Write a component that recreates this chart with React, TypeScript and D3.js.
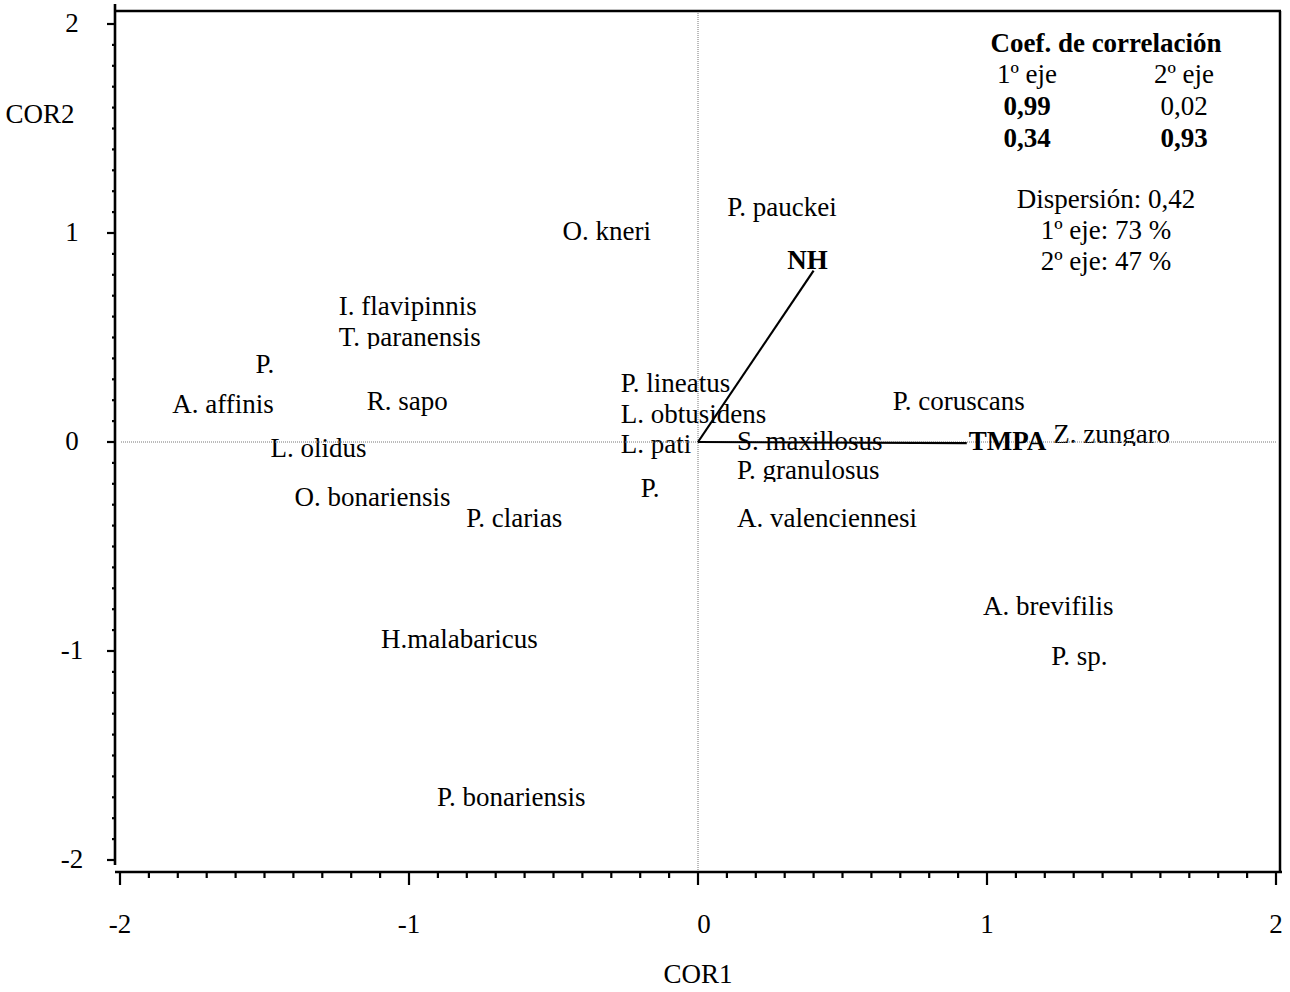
import React from "react";
import * as d3 from "d3";

// ---- data ----
const species = [
  "O. kneri", "P. pauckei", "I. flavipinnis", "T. paranensis", "P.",
  "A. affinis", "R. sapo", "L. olidus", "O. bonariensis", "P. clarias",
  "H.malabaricus", "P. bonariensis", "P. lineatus", "L. obtusidens", "L. pati",
  "P.", "S. maxillosus", "P. granulosus", "A. valenciennesi", "P. coruscans",
  "Z. zungaro", "A. brevifilis", "P. sp.",
];
const cor1 = [
  -0.469, 0.101, -1.243, -1.243, -1.531,
  -1.819, -1.146, -1.479, -1.396, -0.802,
  -1.097, -0.903, -0.267, -0.267, -0.267,
  -0.198, 0.135, 0.135, 0.135, 0.674,
  1.229, 0.986, 1.222,
];
const cor2 = [
  1.0, 1.115, 0.641, 0.493, 0.364,
  0.172, 0.187, -0.038, -0.273, -0.373,
  -0.952, -1.708, 0.273, 0.124, -0.019,
  -0.23, -0.005, -0.144, -0.373, 0.187,
  0.029, -0.794, -1.033,
];

const vecNames = ["NH", "TMPA"];
const vecX = [0.4, 0.93];
const vecY = [0.82, -0.005];

const axisTicks = [-2, -1, 0, 1, 2];
const xTitle = "COR1";
const yTitle = "COR2";

const legendTitle = "Coef. de correlación";
const legendHeaders = ["1º eje", "2º eje"];
const legendRow1 = ["0,99", "0,02"];
const legendRow2 = ["0,34", "0,93"];
const legendRow1Bold = [true, false];
const legendRow2Bold = [true, true];
const dispersionLines = ["Dispersión: 0,42", "1º eje: 73 %", "2º eje: 47 %"];

// labels whose descenders are hidden in the original
const clippedLabels = ["T. paranensis", "P. granulosus", "Z. zungaro"];

export default function App() {
  const W = 1290;
  const H = 992;
  const x = d3.scaleLinear().domain([-2, 2]).range([120, 1276]);
  const y = d3.scaleLinear().domain([-2, 2]).range([860, 24]);
  const font = "'Liberation Serif', 'Times New Roman', serif";
  const fs = 27;
  const axisX = 115;
  const axisY = 872;
  const frameTop = 11;
  const frameRight = 1280;
  const minor = d3.range(-20, 21).map((i) => i / 10);
  const base = 7; // baseline offset from point

  return (
    <div style={{ position: "absolute", left: 0, top: 0 }}>
      <svg width={W} height={H} style={{ display: "block", background: "#fff" }} fontFamily={font} fontSize={fs}>
        <defs>
          {species.map((s, i) =>
            clippedLabels.includes(s) ? (
              <clipPath id={`clip-${i}`} key={i}>
                <rect x={0} y={0} width={W} height={y(cor2[i]) + base + 3} />
              </clipPath>
            ) : null
          )}
        </defs>

        {/* species labels */}
        {species.map((s, i) => (
          <text
            key={i}
            x={x(cor1[i])}
            y={y(cor2[i]) + base}
            fill="#000"
            clipPath={clippedLabels.includes(s) ? `url(#clip-${i})` : undefined}
          >
            {s}
          </text>
        ))}

        {/* dotted reference lines */}
        <line x1={x(0)} x2={x(0)} y1={frameTop} y2={axisY - 2} stroke="#777" strokeWidth={1} strokeDasharray="1,1" />
        <line x1={axisX + 6} x2={frameRight - 4} y1={y(0)} y2={y(0)} stroke="#777" strokeWidth={1} strokeDasharray="1,1" />

        {/* vectors */}
        {vecNames.map((n, i) => (
          <line key={n} x1={x(0)} y1={y(0)} x2={x(vecX[i])} y2={y(vecY[i])} stroke="#000" strokeWidth={2.2} />
        ))}
        <text x={x(vecX[0]) - 6} y={y(vecY[0]) - 2} textAnchor="middle" fontWeight="bold">{vecNames[0]}</text>
        <text x={x(vecX[1]) + 2} y={y(vecY[1]) + base} textAnchor="start" fontWeight="bold">{vecNames[1]}</text>

        {/* frame */}
        <line x1={axisX} x2={frameRight + 1} y1={frameTop} y2={frameTop} stroke="#000" strokeWidth={2.5} />
        <line x1={frameRight} x2={frameRight} y1={frameTop} y2={axisY} stroke="#000" strokeWidth={2.5} />

        {/* y axis */}
        <line x1={axisX} x2={axisX} y1={4} y2={865} stroke="#000" strokeWidth={2.6} />
        {minor.map((v, i) => {
          const major = Math.abs(v - Math.round(v)) < 1e-9;
          return (
            <line key={`yt${i}`} x1={axisX - (major ? 8 : 3)} x2={axisX} y1={y(v)} y2={y(v)} stroke="#000" strokeWidth={2.2} />
          );
        })}
        {axisTicks.map((v) => (
          <text key={`yl${v}`} x={72} y={y(v) + 8} textAnchor="middle">{v}</text>
        ))}
        <text x={40} y={123} textAnchor="middle">{yTitle}</text>

        {/* x axis */}
        <line x1={axisX} x2={frameRight + 2} y1={axisY} y2={axisY} stroke="#000" strokeWidth={2.6} />
        {minor.map((v, i) => {
          const major = Math.abs(v - Math.round(v)) < 1e-9;
          return (
            <line key={`xt${i}`} x1={x(v)} x2={x(v)} y1={axisY} y2={axisY + (major ? 13 : 6)} stroke="#000" strokeWidth={2.2} />
          );
        })}
        {axisTicks.map((v) => (
          <text key={`xl${v}`} x={x(v) + (v === 0 ? 6 : 0)} y={933} textAnchor="middle">{v}</text>
        ))}
        <text x={x(0)} y={983} textAnchor="middle">{xTitle}</text>

        {/* legend */}
        <text x={1106} y={52} textAnchor="middle" fontWeight="bold">{legendTitle}</text>
        {legendHeaders.map((h, i) => (
          <text key={`lh${i}`} x={i === 0 ? 1027 : 1184} y={83} textAnchor="middle">{h}</text>
        ))}
        {legendRow1.map((h, i) => (
          <text key={`r1${i}`} x={i === 0 ? 1027 : 1184} y={115} textAnchor="middle" fontWeight={legendRow1Bold[i] ? "bold" : "normal"}>{h}</text>
        ))}
        {legendRow2.map((h, i) => (
          <text key={`r2${i}`} x={i === 0 ? 1027 : 1184} y={147} textAnchor="middle" fontWeight={legendRow2Bold[i] ? "bold" : "normal"}>{h}</text>
        ))}
        {dispersionLines.map((t, i) => (
          <text key={`d${i}`} x={1106} y={208 + i * 31} textAnchor="middle">{t}</text>
        ))}
      </svg>
    </div>
  );
}
